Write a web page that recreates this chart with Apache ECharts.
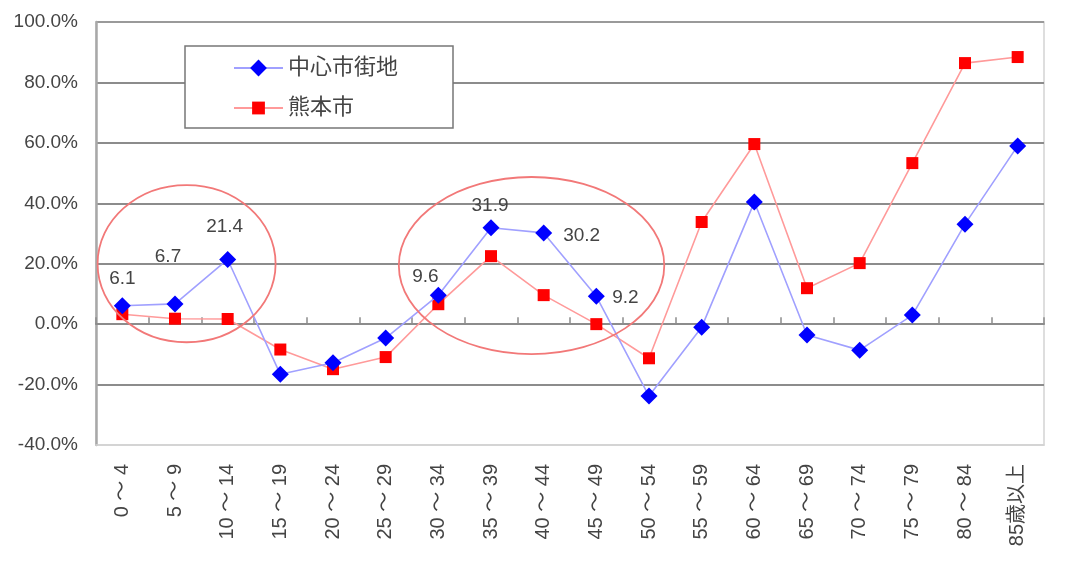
<!DOCTYPE html>
<html>
<head>
<meta charset="utf-8">
<script src="https://cdn.jsdelivr.net/npm/echarts@6/dist/echarts.min.js"></script>
<style>
  html, body { margin: 0; padding: 0; background: #fff; }
  #chart { width: 1067px; height: 563px; }
</style>
</head>
<body>
<div id="chart"></div>
<script>
// Age groups (5-year bands)
const ageGroups = [
  '0 ～ 4', '5 ～ 9', '10 ～ 14', '15 ～ 19', '20 ～ 24', '25 ～ 29',
  '30 ～ 34', '35 ～ 39', '40 ～ 44', '45 ～ 49', '50 ～ 54', '55 ～ 59',
  '60 ～ 64', '65 ～ 69', '70 ～ 74', '75 ～ 79', '80 ～ 84', '85歳以上'
];

// Rate of change (%) by age group
const centralArea = [6.1, 6.7, 21.4, -16.6, -12.8, -4.6, 9.6, 31.9, 30.2, 9.2,
                     -23.8, -1.0, 40.4, -3.6, -8.6, 3.0, 33.1, 59.0];
const kumamotoCity = [3.3, 1.8, 1.7, -8.4, -14.9, -10.9, 6.6, 22.5, 9.6, 0.0,
                      -11.3, 33.8, 59.6, 11.9, 20.2, 53.3, 86.4, 88.4];

// Y axis range (%)
const yMin = -40, yMax = 100, yStep = 20;

// Indices of central-area points that carry a value label, with label offsets
const labelOffsets = {
  0: [0, -27], 1: [-7, -47], 2: [-3, -33],
  6: [-13, -18], 7: [-1, -22], 8: [38, 3], 9: [29, 1]
};

// Highlight ellipses: centre (category index, value) and radii (categories, value units)
const highlightRings = [
  { cx: 1.22, cy: 20.0, rx: 1.69, ry: 26.0 },
  { cx: 7.77, cy: 19.4, rx: 2.52, ry: 29.3 }
];

const FONT = '"Liberation Sans", Arial, "Noto Sans CJK JP", sans-serif';
const TEXT = '#444';

const chart = echarts.init(document.getElementById('chart'), null, { renderer: 'canvas' });

const centralData = centralArea.map((v, i) => {
  const off = labelOffsets[i];
  if (!off) return v;
  return {
    value: v,
    label: {
      show: true, position: 'inside', offset: off,
      formatter: String(v.toFixed(1)),
      color: TEXT, fontSize: 19, fontFamily: FONT
    }
  };
});

// Shared legend look; each entry gets its own legend so the icons can differ in size
const legendBase = {
  orient: 'vertical',
  left: 233,
  padding: 0,
  itemWidth: 49,
  textStyle: { fontSize: 22, color: TEXT, fontFamily: FONT, padding: [0, 0, 0, 0] },
  z: 20
};

chart.setOption({
  animation: false,
  backgroundColor: '#fff',
  grid: {
    left: 96, right: 23, top: 22, bottom: 118,
    show: true, borderColor: '#d4d4d4', borderWidth: 1.5,
    outerBoundsMode: 'none'
  },
  legend: [
    Object.assign({}, legendBase, { top: 57, itemHeight: 21, data: ['中心市街地'] }),
    Object.assign({}, legendBase, { top: 97, itemHeight: 16, data: ['熊本市'] })
  ],
  xAxis: [
    {
      type: 'category',
      data: ageGroups,
      boundaryGap: true,
      position: 'bottom',
      axisLine: { onZero: false, lineStyle: { color: '#d4d4d4', width: 1.5 } },
      axisTick: { show: false },
      axisLabel: {
        rotate: 90, margin: 19, interval: 0,
        fontSize: 20, color: TEXT, fontFamily: FONT
      },
      splitLine: { show: false }
    },
    {
      // Zero line with short upward ticks between categories
      type: 'category',
      data: ageGroups,
      boundaryGap: true,
      position: 'bottom',
      axisLine: { onZero: true, lineStyle: { color: '#8c8c8c', width: 2 } },
      axisTick: { show: true, inside: true, length: 7, interval: 0,
                  lineStyle: { color: '#8c8c8c', width: 1.5 } },
      axisLabel: { show: false },
      splitLine: { show: false }
    }
  ],
  yAxis: {
    type: 'value',
    min: yMin, max: yMax, interval: yStep,
    axisLine: { show: true, lineStyle: { color: '#a8a8a8', width: 2.5 } },
    axisTick: { show: false },
    axisLabel: {
      margin: 18, fontSize: 19, color: TEXT, fontFamily: FONT,
      formatter: v => v.toFixed(1) + '%'
    },
    splitLine: {
      show: true,
      lineStyle: {
        color: ['#d4d4d4', '#8c8c8c', '#8c8c8c', '#8c8c8c', '#8c8c8c', '#8c8c8c', '#8c8c8c', '#9a9a9a'],
        width: 2
      }
    }
  },
  series: [
    {
      name: '熊本市',
      type: 'line',
      xAxisIndex: 0,
      data: kumamotoCity,
      symbol: 'rect',
      symbolSize: 12,
      itemStyle: { color: '#ff0000' },
      lineStyle: { color: '#ff9a9a', width: 1.6 },
      z: 3
    },
    {
      name: '中心市街地',
      type: 'line',
      xAxisIndex: 0,
      data: centralData,
      symbol: 'diamond',
      symbolSize: 17,
      itemStyle: { color: '#0000ff' },
      lineStyle: { color: '#a0a0ff', width: 1.6 },
      z: 4
    }
  ]
});

// Legend frame and highlight ellipses (ellipses placed in data space)
function drawOverlays() {
  const p0 = chart.convertToPixel({ xAxisIndex: 0, yAxisIndex: 0 }, [0, 0]);
  const p1 = chart.convertToPixel({ xAxisIndex: 0, yAxisIndex: 0 }, [1, 10]);
  const dx = p1[0] - p0[0];          // px per category
  const dy = (p0[1] - p1[1]) / 10;   // px per value unit
  const rings = highlightRings.map(r => ({
    type: 'ellipse',
    shape: {
      cx: p0[0] + r.cx * dx,
      cy: p0[1] - r.cy * dy,
      rx: r.rx * dx,
      ry: r.ry * dy
    },
    style: { fill: 'none', stroke: '#f27878', lineWidth: 1.8 },
    z: 10
  }));
  const frame = {
    type: 'rect',
    shape: { x: 185, y: 46, width: 268, height: 82 },
    style: { fill: '#fff', stroke: '#777', lineWidth: 1.5 },
    z: 5
  };
  chart.setOption({ graphic: [frame].concat(rings) });
}
drawOverlays();
</script>
</body>
</html>
